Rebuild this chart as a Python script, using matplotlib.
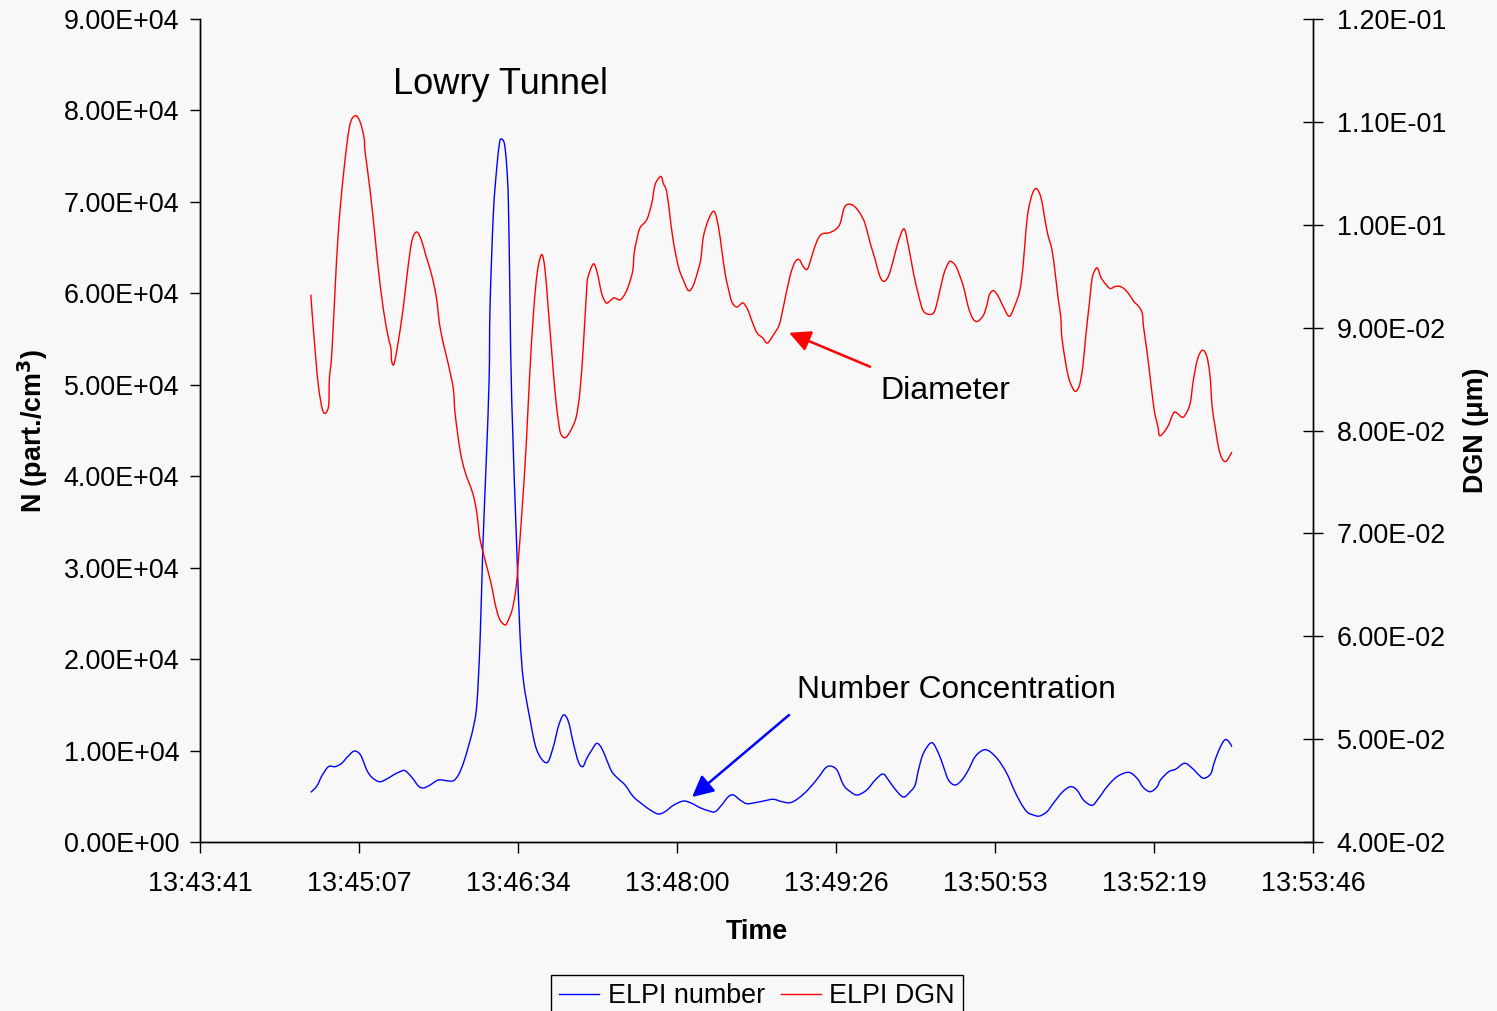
import numpy as np
import matplotlib
matplotlib.use('Agg')
import matplotlib.pyplot as plt
from matplotlib.ticker import FuncFormatter, MultipleLocator
from matplotlib.path import Path
from matplotlib.patches import PathPatch
from matplotlib.lines import Line2D

plt.rcParams['font.family'] = ['Liberation Sans', 'DejaVu Sans']

# start of the ELPI record, seconds since midnight (13:44:41)
T0 = 13 * 3600 + 44 * 60 + 41

# particle number concentration (part./cm3) vs elapsed time (s)
t_num = [0, 3.3, 6.0, 9.6, 13.2, 16.8, 20.4, 23.7, 26.8, 29.0,
         30.4, 33.1, 37.3, 41.3, 44.9, 48.5, 51.2, 54.9, 58.5, 61.2,
         64.8, 69.3, 73.9, 77.5, 80.2, 82.9, 85.6, 88.0, 90.2, 92.0,
         93.5, 95.3, 96.9, 97.4, 99.2, 101.1, 102.5, 103.4, 105.2, 106.5,
         107.4, 108.3, 109.2, 111.9, 113.7, 115.5, 119.2, 122.8, 128.2, 131.8,
         134.5, 137.3, 140.0, 142.7, 145.4, 147.8, 150.0, 152.7, 155.4, 158.1,
         160.8, 163.6, 167.2, 170.8, 175.3, 180.7, 185.3, 189.0, 192.5, 197.0,
         202.5, 207.0, 211.5, 216.1, 219.7, 223.3, 226.9, 229.7, 233.3, 236.9,
         241.4, 246.9, 251.4, 256.0, 260.5, 265.0, 270.4, 275.9, 279.5, 282.3,
         285.9, 289.5, 293.2, 297.0, 302.1, 306.7, 310.9, 313.9, 317.6, 322.0,
         325.7, 328.4, 330.2, 332.9, 337.4, 341.1, 343.8, 346.5, 350.1, 353.8,
         357.3, 361.0, 365.5, 369.1, 373.6, 378.2, 381.8, 385.4, 389.1, 392.7,
         396.0, 400.0, 403.5, 408.1, 412.7, 416.3, 419.9, 424.5, 428.1, 432.7,
         438.1, 444.4, 449.0, 452.3, 456.2, 459.9, 461.7, 466.2, 469.9, 474.8,
         479.0, 482.6, 485.3, 489.0, 490.8, 493.5, 496.6, 498.9, 500.5]
n_num = [5430, 6120, 7220, 8240, 8240, 8610, 9410, 9950, 9590, 8610,
         7870, 7080, 6590, 6890, 7330, 7690, 7800, 7080, 6120, 5910,
         6230, 6780, 6700, 6700, 7330, 8610, 10420, 12250, 14980, 22090,
         32290, 41420, 50520, 58510, 68690, 73820, 76370, 76880, 76370, 73820,
         69720, 58510, 48230, 32290, 22640, 17720, 13340, 10060, 8670, 10420,
         12610, 13890, 13160, 10790, 8780, 8240, 9150, 10060, 10790, 10250,
         8970, 7690, 6890, 6230, 4950, 4050, 3390, 3060, 3310, 4010,
         4480, 4230, 3750, 3420, 3310, 4050, 4950, 5140, 4590, 4190,
         4300, 4520, 4670, 4410, 4300, 4780, 5760, 7080, 8060, 8310,
         7870, 6230, 5500, 5140, 5690, 6780, 7440, 6780, 5760, 4920,
         5500, 6230, 7870, 9700, 10860, 9700, 8240, 6780, 6230, 6780,
         7870, 9330, 10060, 9880, 8970, 7510, 5870, 4410, 3310, 2950,
         2840, 3310, 4230, 5390, 6050, 5690, 4590, 4010, 4780, 6050,
         7140, 7620, 6970, 5980, 5500, 6050, 6780, 7690, 7950, 8610,
         8060, 7330, 6970, 7440, 8610, 10060, 11160, 10970, 10420]

# geometric mean diameter (um) vs elapsed time (s)
t_dgn = [0, 1.8, 4.1, 6.8, 9.6, 10.1, 11.4, 13.2, 15.0, 17.7,
         21.0, 24.1, 26.8, 29.0, 29.5, 32.2, 35.0, 36.7, 39.5, 42.2,
         43.5, 44.0, 45.3, 47.6, 50.3, 52.5, 54.9, 57.6, 60.3, 62.7,
         64.8, 67.5, 69.0, 69.9, 72.1, 74.8, 77.5, 78.4, 81.1, 83.8,
         88.0, 90.2, 92.0, 95.6, 98.4, 100.1, 102.5, 105.6, 107.4, 109.6,
         111.6, 112.8, 114.7, 117.0, 118.8, 121.0, 123.1, 125.5, 127.3, 129.1,
         131.0, 132.8, 134.5, 135.8, 138.2, 140.9, 144.2, 146.3, 148.1, 150.0,
         150.8, 153.6, 155.7, 158.1, 160.5, 162.6, 164.8, 168.1, 170.8, 173.1,
         175.0, 175.7, 177.1, 178.9, 182.6, 185.3, 187.1, 190.2, 191.6, 193.4,
         195.2, 197.0, 199.8, 202.5, 205.2, 207.6, 209.7, 211.9, 213.3, 216.1,
         219.2, 221.5, 223.3, 225.1, 226.9, 228.8, 231.5, 234.5, 236.0, 237.8,
         239.6, 242.4, 245.6, 248.1, 251.4, 254.6, 256.8, 260.4, 263.2, 265.5,
         267.7, 269.9, 272.2, 275.0, 277.7, 281.3, 284.9, 287.6, 289.8, 292.1,
         295.3, 298.5, 301.2, 304.0, 306.7, 309.0, 311.2, 313.9, 316.6, 319.3,
         322.4, 324.8, 327.5, 330.2, 332.6, 335.6, 338.7, 341.1, 343.8, 346.5,
         348.3, 351.0, 354.6, 357.3, 359.7, 362.2, 365.5, 367.4, 368.8, 371.0,
         373.7, 376.4, 379.6, 382.7, 385.4, 387.2, 388.5, 389.9, 392.3, 394.5,
         396.7, 398.1, 400.3, 402.7, 404.5, 406.2, 407.5, 408.1, 409.9, 411.7,
         413.5, 415.5, 417.7, 419.5, 421.3, 423.1, 424.4, 425.6, 427.4, 429.3,
         431.6, 434.4, 437.1, 439.8, 442.5, 445.2, 447.4, 449.7, 451.8, 452.5,
         454.3, 456.1, 458.3, 460.3, 461.2, 463.4, 466.0, 468.8, 470.6, 473.3,
         475.1, 477.8, 479.6, 481.8, 484.4, 486.9, 488.7, 489.8, 491.4, 493.2,
         495.1, 497.4, 500.5]
dgn = [0.0932, 0.0890, 0.0844, 0.0818, 0.0823, 0.0850, 0.0874, 0.0937, 0.0994, 0.1048,
       0.1095, 0.1106, 0.1100, 0.1084, 0.1071, 0.1034, 0.0987, 0.0957, 0.0917, 0.0890,
       0.0880, 0.0867, 0.0865, 0.0887, 0.0920, 0.0954, 0.0984, 0.0993, 0.0984, 0.0969,
       0.0957, 0.0937, 0.0919, 0.0904, 0.0884, 0.0864, 0.0840, 0.0817, 0.0781, 0.0760,
       0.0739, 0.0720, 0.0694, 0.0668, 0.0648, 0.0632, 0.0617, 0.0611, 0.0616, 0.0627,
       0.0648, 0.0674, 0.0720, 0.0784, 0.0849, 0.0914, 0.0954, 0.0971, 0.0956, 0.0917,
       0.0875, 0.0836, 0.0810, 0.0797, 0.0793, 0.0799, 0.0813, 0.0839, 0.0882, 0.0940,
       0.0950, 0.0962, 0.0953, 0.0933, 0.0924, 0.0926, 0.0929, 0.0927, 0.0933, 0.0943,
       0.0956, 0.0972, 0.0985, 0.0997, 0.1005, 0.1021, 0.1039, 0.1047, 0.1040, 0.1032,
       0.1008, 0.0984, 0.0959, 0.0946, 0.0936, 0.0940, 0.0951, 0.0966, 0.0988, 0.1005,
       0.1013, 0.0998, 0.0976, 0.0953, 0.0938, 0.0925, 0.0920, 0.0924, 0.0922, 0.0916,
       0.0907, 0.0895, 0.0890, 0.0885, 0.0893, 0.0903, 0.0920, 0.0950, 0.0964, 0.0966,
       0.0959, 0.0957, 0.0969, 0.0984, 0.0991, 0.0992, 0.0995, 0.1001, 0.1016, 0.1020,
       0.1018, 0.1011, 0.1001, 0.0982, 0.0966, 0.0951, 0.0945, 0.0950, 0.0966, 0.0984,
       0.0996, 0.0979, 0.0953, 0.0932, 0.0917, 0.0913, 0.0915, 0.0930, 0.0951, 0.0963,
       0.0964, 0.0958, 0.0940, 0.0920, 0.0909, 0.0906, 0.0912, 0.0922, 0.0932, 0.0936,
       0.0930, 0.0920, 0.0911, 0.0922, 0.0937, 0.0963, 0.0992, 0.1014, 0.1031, 0.1035,
       0.1027, 0.1014, 0.0992, 0.0976, 0.0953, 0.0927, 0.0911, 0.0891, 0.0869, 0.0852,
       0.0843, 0.0838, 0.0844, 0.0862, 0.0895, 0.0924, 0.0946, 0.0954, 0.0958, 0.0949,
       0.0943, 0.0938, 0.0940, 0.0940, 0.0937, 0.0931, 0.0925, 0.0921, 0.0914, 0.0901,
       0.0878, 0.0852, 0.0820, 0.0804, 0.0795, 0.0798, 0.0805, 0.0817, 0.0817, 0.0813,
       0.0815, 0.0826, 0.0849, 0.0869, 0.0878, 0.0872, 0.0852, 0.0823, 0.0804, 0.0784,
       0.0773, 0.0770, 0.0779]


def smooth_line(axis, x, y, color, lw=1.0):
    """Draw a smoothed (Bezier) line through the points, Excel style."""
    p = np.column_stack([x, y]).astype(float)
    ext = np.vstack([p[0], p, p[-1]])
    verts = [p[0]]
    codes = [Path.MOVETO]
    for i in range(len(p) - 1):
        c1 = ext[i + 1] + (ext[i + 2] - ext[i]) / 6.0
        c2 = ext[i + 2] - (ext[i + 3] - ext[i + 1]) / 6.0
        verts += [c1, c2, p[i + 1]]
        codes += [Path.CURVE4] * 3
    axis.add_patch(PathPatch(Path(verts, codes), facecolor='none',
                             edgecolor=color, lw=lw))


bg = '#f8f8f8'
fig = plt.figure(figsize=(14.97, 10.11), dpi=100, facecolor=bg)
ax = fig.add_axes([200 / 1497, 1 - 842 / 1011, 1113 / 1497, 823 / 1011])
ax.set_facecolor(bg)
ax2 = ax.twinx()

x_num = T0 + np.array(t_num)
x_dgn = T0 + np.array(t_dgn)
smooth_line(ax, x_num, n_num, '#0000ff')
smooth_line(ax2, x_dgn, dgn, '#ff0000')

# x axis: Excel day fractions 0.572 .. 0.579, one tick per 0.001 day
day = 86400
ax.set_xlim(0.572 * day, 0.579 * day)
ax.set_xticks(np.arange(0.572, 0.5795, 0.001) * day)


def hms(x, pos):
    s = int(round(x))
    return '%d:%02d:%02d' % (s // 3600, s % 3600 // 60, s % 60)


ax.xaxis.set_major_formatter(FuncFormatter(hms))

ax.set_ylim(0, 90000)
ax.yaxis.set_major_locator(MultipleLocator(10000))
ax.yaxis.set_major_formatter(FuncFormatter(lambda v, p: '%.2E' % v))
ax2.set_ylim(0.04, 0.12)
ax2.yaxis.set_major_locator(MultipleLocator(0.01))
ax2.yaxis.set_major_formatter(FuncFormatter(lambda v, p: '%.2E' % v))

fs = 19.4
ax.tick_params(axis='x', direction='out', length=8, width=1, pad=13, labelsize=fs)
ax.tick_params(axis='y', direction='out', length=7, width=1, pad=8, labelsize=fs)
ax2.tick_params(axis='y', direction='inout', length=14, width=1, pad=10, labelsize=fs)

for a in (ax, ax2):
    a.spines['top'].set_visible(False)
    for s in ('left', 'right', 'bottom'):
        a.spines[s].set_linewidth(1)
        a.spines[s].set_color('black')

ax.set_xlabel('Time', fontsize=fs, fontweight='bold', labelpad=16)
ax.set_ylabel('N (part./cm$^\\mathbf{3}$)', fontsize=fs, fontweight='bold', labelpad=10)
ax2.set_ylabel('DGN (\u03bcm)', fontsize=fs, fontweight='bold', labelpad=12)

ax.text(0.1734, 0.921, 'Lowry Tunnel', transform=ax.transAxes, fontsize=26,
        ha='left', va='center')

# callouts
ax2.annotate('', xy=(T0 + 259.9, 0.0895), xytext=(T0 + 303.9, 0.0862),
             arrowprops=dict(arrowstyle='-|>', color='#ff0000', lw=1.8,
                             mutation_scale=32, shrinkA=0, shrinkB=0))
ax2.text(T0 + 309.4, 0.0838, 'Diameter', fontsize=23, ha='left', va='center')
ax.annotate('', xy=(T0 + 207.2, 4920), xytext=(T0 + 259.9, 13890),
            arrowprops=dict(arrowstyle='-|>', color='#0000ff', lw=1.8,
                            mutation_scale=32, shrinkA=0, shrinkB=0))
ax.text(T0 + 264.3, 16620, 'Number Concentration', fontsize=22.8,
        ha='left', va='center')

handles = [Line2D([], [], color='#0000ff', lw=1.0, label='ELPI number'),
           Line2D([], [], color='#ff0000', lw=1.0, label='ELPI DGN')]
leg = fig.legend(handles=handles, loc='upper center', ncol=2,
                 bbox_to_anchor=(757 / 1497, 1 - 975 / 1011), fontsize=fs,
                 frameon=True, fancybox=False, edgecolor='black', facecolor=bg,
                 framealpha=1, handlelength=1.5, handletextpad=0.3,
                 columnspacing=0.6, borderpad=0.3, borderaxespad=0)
leg.get_frame().set_linewidth(1)

fig.savefig('out.png', dpi=100, facecolor=bg)
